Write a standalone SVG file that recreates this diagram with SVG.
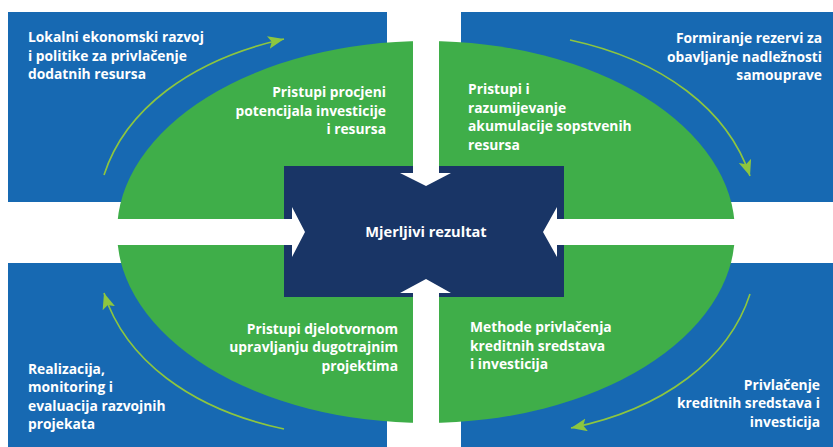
<svg xmlns="http://www.w3.org/2000/svg" width="833" height="447" viewBox="0 0 833 447">
<style>
.blue{fill:#1769b2}
.green{fill:#3fae49}
.navy{fill:#193566}
.white{fill:#ffffff}
.t{font-family:"Open Sans","Liberation Sans",sans-serif;font-weight:700;font-size:13.8px;fill:#ffffff}
.r{text-anchor:end}
.c{text-anchor:middle;font-size:14.6px}
.cur{fill:none;stroke:#8dc63f;stroke-width:1.6;marker-end:url(#ah)}
</style>
<defs>
<marker id="ah" markerUnits="userSpaceOnUse" markerWidth="18" markerHeight="15" refX="16" refY="6.5" orient="auto">
<path d="M0,0 L16,6.5 L0,13 L3.5,6.5 z" fill="#8dc63f"/>
</marker>
</defs>
<rect width="833" height="447" fill="#ffffff"/>
<g id="quadrants">
<rect class="blue" x="8" y="12" width="379" height="190"/>
<rect class="blue" x="461" y="12" width="372" height="190"/>
<rect class="blue" x="8" y="263" width="379" height="184"/>
<rect class="blue" x="461" y="263" width="372" height="184"/>
</g>
<g id="ellipse">
<ellipse class="green" cx="426" cy="232" rx="309" ry="191"/>
<rect class="white" x="413" y="0" width="26" height="447"/>
<rect class="white" x="0" y="219" width="833" height="26"/>
</g>
<g id="center">
<rect class="navy" x="284" y="166" width="280" height="131"/>
<text class="t c" x="426" y="237">Mjerljivi rezultat</text>
</g>
<g id="connectors">
<polygon class="white" points="413,166 413,173 400,173 426,186 451,173 439,173 439,166"/>
<polygon class="white" points="413,297 413,293 400,293 426,279 451,293 439,293 439,297"/>
<polygon class="white" points="284,219 292,219 292,207 305,232 292,257 292,245 284,245"/>
<polygon class="white" points="564,219 557,219 557,207 543,232 557,257 557,245 564,245"/>
<path class="cur" d="M104,175 C125,110 190,60 284,39"/>
<path class="cur" d="M570,40 C663,60 728,110 750,176"/>
<path class="cur" d="M750,294 C729,359 664,409 571,428"/>
<path class="cur" d="M284,429 C190,409 125,359 104,293"/>
</g>
<g id="tl-outer">
<text class="t" x="28" y="42">Lokalni ekonomski razvoj</text>
<text class="t" x="28" y="61">i politike za privlačenje</text>
<text class="t" x="28" y="79">dodatnih resursa</text>
</g>
<g id="tl-inner">
<text class="t r" x="386" y="97">Pristupi procjeni</text>
<text class="t r" x="386" y="115.5">potencijala investicije</text>
<text class="t r" x="386" y="134">i resursa</text>
</g>
<g id="tr-outer">
<text class="t r" x="822" y="43">Formiranje rezervi za</text>
<text class="t r" x="822" y="61.5">obavljanje nadležnosti</text>
<text class="t r" x="822" y="80">samouprave</text>
</g>
<g id="tr-inner">
<text class="t" x="468" y="94">Pristupi i</text>
<text class="t" x="468" y="112.5">razumijevanje</text>
<text class="t" x="468" y="131">akumulacije sopstvenih</text>
<text class="t" x="468" y="149.5">resursa</text>
</g>
<g id="bl-inner">
<text class="t r" x="398" y="334">Pristupi djelotvornom</text>
<text class="t r" x="398" y="352">upravljanju dugotrajnim</text>
<text class="t r" x="398" y="370.5">projektima</text>
</g>
<g id="bl-outer">
<text class="t" x="28" y="374">Realizacija,</text>
<text class="t" x="28" y="392">monitoring i</text>
<text class="t" x="28" y="410.5">evaluacija razvojnih</text>
<text class="t" x="28" y="429">projekata</text>
</g>
<g id="br-inner">
<text class="t" x="470" y="332">Methode privlačenja</text>
<text class="t" x="470" y="350.5">kreditnih sredstava</text>
<text class="t" x="470" y="369">i investicija</text>
</g>
<g id="br-outer">
<text class="t r" x="820" y="390">Privlačenje</text>
<text class="t r" x="820" y="408">kreditnih sredstava i</text>
<text class="t r" x="820" y="426.5">investicija</text>
</g>
</svg>
